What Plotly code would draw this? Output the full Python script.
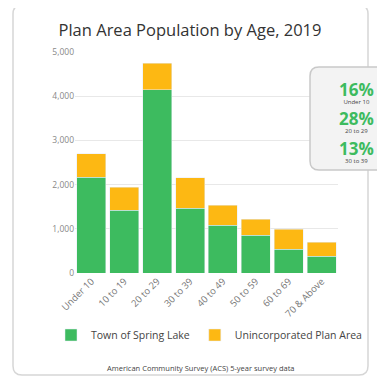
import plotly.graph_objects as go

# Values
age_groups = ["Under 10", "10 to 19", "20 to 29", "30 to 39", "40 to 49", "50 to 59", "60 to 69", "70 & Above"]
town = [2170, 1420, 4150, 1460, 1080, 855, 540, 380]
unincorporated = [530, 520, 600, 700, 450, 360, 450, 320]

stat_values = ["16%", "28%", "13%"]
stat_labels = ["Under 10", "20 to 29", "30 to 39"]

# page body has an 8px margin, so the figure sits at (8, 8) in the window
OFF = 8
W, H = 385 - OFF, 377 - OFF
GREEN = "#3dbb5f"
ORANGE = "#fdb813"


def px(x):
    return (x - OFF) / W


def py(y):
    return 1 - (y - OFF) / H


def rounded_box(x0, y0, x1, y1, r):
    # path in paper coords, corners built with quadratic curves
    pts = [
        f"M {px(x0 + r)} {py(y0)}",
        f"L {px(x1 - r)} {py(y0)}",
        f"Q {px(x1)} {py(y0)} {px(x1)} {py(y0 + r)}",
        f"L {px(x1)} {py(y1 - r)}",
        f"Q {px(x1)} {py(y1)} {px(x1 - r)} {py(y1)}",
        f"L {px(x0 + r)} {py(y1)}",
        f"Q {px(x0)} {py(y1)} {px(x0)} {py(y1 - r)}",
        f"L {px(x0)} {py(y0 + r)}",
        f"Q {px(x0)} {py(y0)} {px(x0 + r)} {py(y0)}",
        "Z",
    ]
    return " ".join(pts)


fig = go.Figure()
fig.add_trace(go.Bar(x=age_groups, y=town, name="Town of Spring Lake", marker_color=GREEN))
fig.add_trace(go.Bar(x=age_groups, y=unincorporated, name="Unincorporated Plan Area", marker_color=ORANGE))

# card outlines
fig.add_shape(type="path", path=rounded_box(13, 5, 368, 375, 9), xref="paper", yref="paper",
              line=dict(color="#d6d6d6", width=1.5), fillcolor="rgba(0,0,0,0)", layer="below")
fig.add_shape(type="path", path=rounded_box(310, 67, 400, 170, 9), xref="paper", yref="paper",
              line=dict(color="#c9c9c9", width=1.5), fillcolor="#f3f3f3", layer="above")

annotations = [
    dict(text="American Community Survey (ACS) 5-year survey data", x=px(201), y=py(368),
         font=dict(size=7.5, color="#444")),
]
for i, (v, lab) in enumerate(zip(stat_values, stat_labels)):
    txt = (f"<span style='font-size:17px;color:{GREEN}'><b>{v}</b></span><br>"
           f"<span style='color:#444'>{lab}</span>")
    annotations.append(dict(text=txt, x=px(356), y=py(92 + 29.5 * i), font=dict(size=6, color="#444")))
for a in annotations:
    a.update(xref="paper", yref="paper", showarrow=False, xanchor="center", yanchor="middle")

fig.update_layout(
    width=W,
    height=H,
    barmode="stack",
    bargap=0.12,
    margin=dict(l=0, r=0, t=0, b=0, autoexpand=False),
    paper_bgcolor="white",
    plot_bgcolor="white",
    font=dict(family="Open Sans", color="#444"),
    title=dict(text="Plan Area Population by Age, 2019", x=px(190), y=py(30), xanchor="center",
               yanchor="middle", font=dict(size=16.5, color="#333")),
    xaxis=dict(domain=[px(75), px(338)], tickangle=-45, tickfont=dict(size=9.5, color="#777"),
               showline=False, ticks="", automargin=False),
    yaxis=dict(domain=[py(273), py(52)], range=[0, 5000], dtick=1000, tickformat=",",
               tickfont=dict(size=8.5, color="#888"), gridcolor="#e8e8e8", zeroline=False,
               ticks="", ticklen=0, automargin=False),
    legend=dict(orientation="h", x=px(51), y=py(335), xanchor="left", yanchor="middle",
                font=dict(size=10.5, color="#444"), traceorder="normal"),
    annotations=annotations,
    showlegend=True,
)

fig.write_html("out.html")
